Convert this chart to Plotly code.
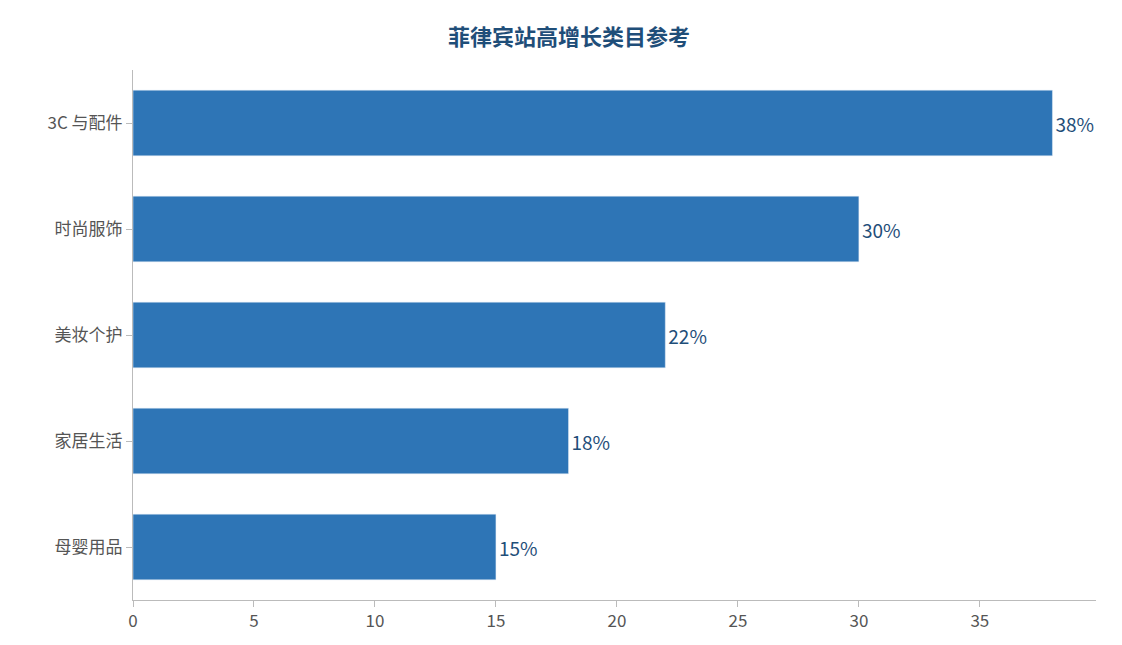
import plotly.graph_objects as go

categories = ["3C 与配件", "时尚服饰", "美妆个护", "家居生活", "母婴用品"]
growth = [38, 30, 22, 18, 15]
labels = ["38%", "30%", "22%", "18%", "15%"]

fig = go.Figure()
fig.add_trace(go.Bar(
    x=growth,
    y=categories,
    orientation="h",
    width=0.62,
    marker_color="#2E75B6",
    text=labels,
    textposition="outside",
    textfont=dict(color="#1F4E79", size=19, family="Noto Sans CJK SC"),
    cliponaxis=False,
))

fig.update_layout(
    width=1122,
    height=645,
    margin=dict(l=125, r=34, t=62, b=53),
    paper_bgcolor="white",
    plot_bgcolor="white",
    showlegend=False,
    font=dict(family="Noto Sans CJK SC", size=17, color="#555555"),
    title=dict(
        text="<b>菲律宾站高增长类目参考</b>",
        x=0.5, xanchor="center", y=0.955, yanchor="middle",
        font=dict(size=22, color="#1F4E79"),
    ),
    xaxis=dict(
        range=[0, 39.8],
        dtick=5,
        showgrid=False,
        zeroline=False,
        showline=True,
        linecolor="#bbbbbb",
        ticks="outside",
        tickcolor="#bbbbbb",
        ticklen=6,
    ),
    yaxis=dict(
        autorange="reversed",
        showgrid=False,
        showline=True,
        linecolor="#bbbbbb",
        ticks="outside",
        tickcolor="#bbbbbb",
        ticklen=6,
    ),
)

fig.write_html("out.html")
